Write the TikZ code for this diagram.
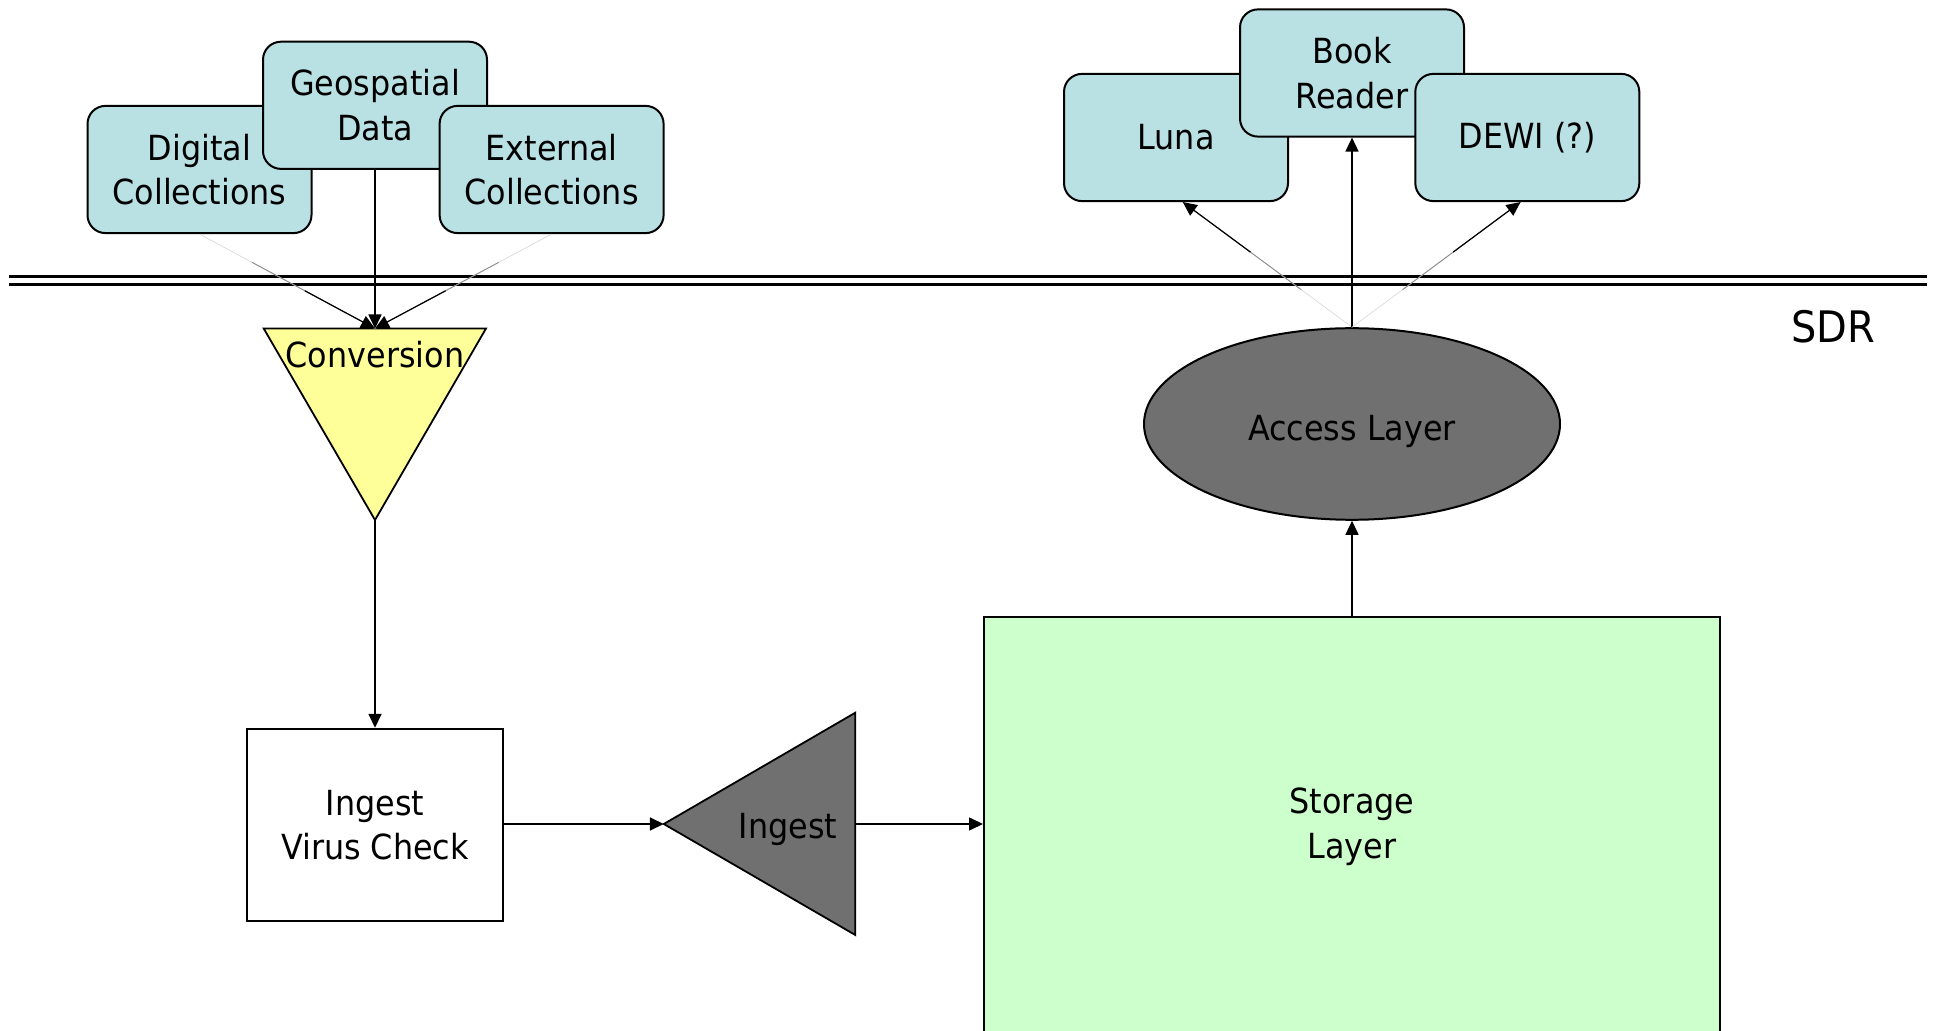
\documentclass[tikz,border=0pt]{standalone}
\usepackage{fontspec}
\setmainfont[FakeStretch=0.92]{DejaVu Sans}
\usetikzlibrary{arrows.meta,calc,shapes.geometric}
\definecolor{appblue}{RGB}{185,224,227}
\definecolor{convyellow}{RGB}{255,255,153}
\definecolor{storegreen}{RGB}{204,255,204}
\definecolor{layergray}{RGB}{112,112,112}
\newcommand\fadeconn[2]{%
  \draw[line width=0.35pt,black!15] (#1) -- (#2);
  \draw[line width=0.45pt,black!45] ($(#1)!0.3!(#2)$) -- (#2);
  \draw[thinarrow] ($(#1)!0.6!(#2)$) -- (#2);
}
\begin{document}
\begin{tikzpicture}[x=0.5pt,y=-0.5pt,
  every node/.style={font=\fontsize{17.3}{22.3}\selectfont, align=center},
  appbox/.style={draw=black,line width=1pt,fill=appblue,rounded corners=9pt,minimum width=112pt,minimum height=63.6pt,inner sep=0pt},
  plainbox/.style={draw=black,line width=1pt,fill=white,minimum width=128pt,minimum height=96.2pt,inner sep=0pt},
  storebox/.style={draw=black,line width=1pt,fill=storegreen,minimum width=368pt,minimum height=209.6pt,inner sep=0pt},
  layerellipse/.style={ellipse,draw=black,line width=1pt,fill=layergray,minimum width=208pt,minimum height=95.8pt,inner sep=0pt},
  triangleshape/.style={draw=black,line width=0.9pt,line join=miter},
  arrowline/.style={line width=0.8pt,-{Triangle[length=7pt,width=6.5pt]}},
  thinarrow/.style={line width=0.6pt,-{Triangle[length=7pt,width=6.5pt]}},
  border/.style={line width=1.7pt}]
\useasboundingbox (0,0) rectangle (1937,1031);
\clip (0,0) rectangle (1937,1031);

% SDR boundary
\draw[border] (8.6,276.3) -- (1927,276.3);
\draw[border] (8.6,284.3) -- (1927,284.3);
\node (sdr) at (1833,327) {\fontsize{21.7}{26}\selectfont SDR};

% sources
\node[appbox] (dig) at (199.5,169.5) {Digital\\Collections};
\node[appbox] (geo) at (375,105.3) {Geospatial\\Data};
\node[appbox] (ext) at (551.6,169.5) {External\\Collections};

% conversion
\coordinate (convNW) at (263.7,328.5);
\coordinate (convNE) at (486,328.5);
\coordinate (convS) at (375,520);
\coordinate (convTop) at (375,328.5);
\draw[triangleshape,fill=convyellow] (convNW) -- (convNE) -- (convS) -- cycle;
\node (convlabel) at (375,355) {Conversion};

\fadeconn{dig.south}{convTop}
\draw[arrowline] (geo.south) -- (convTop);
\fadeconn{ext.south}{convTop}

% ingest
\node[plainbox] (ivc) at (375,825) {Ingest\\Virus Check};
\draw[arrowline] (convS) -- (ivc.north);

\coordinate (ingW) at (663.8,824);
\coordinate (ingNE) at (855.3,712.7);
\coordinate (ingSE) at (855.3,935);
\coordinate (ingE) at (855.3,824);
\draw[triangleshape,fill=layergray] (ingW) -- (ingNE) -- (ingSE) -- cycle;
\node (inglabel) at (788,829) {Ingest};
\draw[arrowline] (ivc.east |- ingW) -- (ingW);

% storage
\node[storebox] (store) at (1352,827) {Storage\\Layer};
\draw[arrowline] (ingE) -- (ingE -| store.west);

% access
\node[layerellipse] (acc) at (1352,424) {};
\node (acclabel) at (1352,431) {Access Layer};
\draw[arrowline] (store.north) -- (acc.south);

% viewers
\node[appbox] (luna) at (1176,137.5) {Luna};
\node[appbox] (book) at (1352,73) {Book\\Reader};
\node[appbox] (dewi) at (1527.3,137.5) {DEWI (?)};
\coordinate (lunaIn) at ($(luna.south)!0.06!(luna.south east)$);
\coordinate (dewiIn) at ($(dewi.south)!0.06!(dewi.south west)$);
\fadeconn{acc.north}{lunaIn}
\draw[arrowline] (acc.north) -- (book.south);
\fadeconn{acc.north}{dewiIn}
\end{tikzpicture}
\end{document}
